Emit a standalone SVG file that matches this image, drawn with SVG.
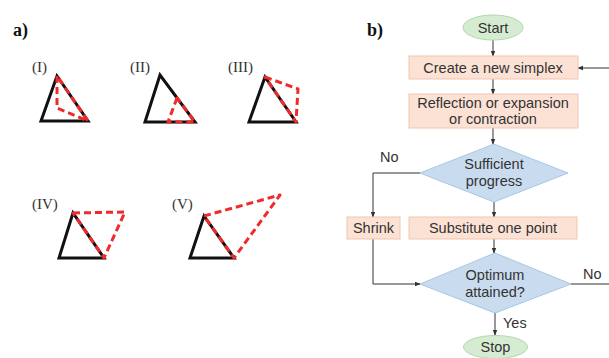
<svg xmlns="http://www.w3.org/2000/svg" width="609" height="358" viewBox="0 0 609 358">
  <style>
    .panel { font-family: "Liberation Serif", "Times New Roman", serif; font-weight: bold; font-size: 18px; fill: #111; }
    .roman { font-family: "Liberation Serif", "Times New Roman", serif; font-size: 15px; fill: #333; }
    .tri { fill: none; stroke: #111; stroke-width: 3; stroke-linejoin: miter; }
    .move { fill: none; stroke: #ee2a2a; stroke-width: 3; stroke-dasharray: 7 4; stroke-linejoin: round; }
    .box { fill: #fbe2d5; stroke: #f3c4ae; stroke-width: 1; }
    .dec { fill: #c9dcef; stroke: #a9c6e3; stroke-width: 1; }
    .term { fill: #d6ecd2; stroke: #b2d8ab; stroke-width: 1; }
    .lbl { font-family: "Liberation Sans", Arial, sans-serif; font-size: 14.5px; fill: #333; text-anchor: middle; }
    .side { font-family: "Liberation Sans", Arial, sans-serif; font-size: 14.5px; fill: #333; }
    .conn { fill: none; stroke: #333; stroke-width: 1; }
  </style>
  <defs>
    <marker id="arrow" viewBox="0 0 8 8" refX="7" refY="4" markerWidth="6" markerHeight="6" orient="auto" markerUnits="userSpaceOnUse">
      <path d="M0,1 L8,4 L0,7 Z" fill="#333"/>
    </marker>
  </defs>

  <rect width="609" height="358" fill="#ffffff"/>

  <!-- a) simplex operations -->
  <text class="panel" x="13" y="36">a)</text>

  <g id="op-I">
    <text class="roman" x="32" y="72">(I)</text>
    <path class="tri" d="M41,121 L57,76 L88,121 Z"/>
    <path class="move" d="M57,76 L57,108 L88,121 Z"/>
  </g>
  <g id="op-II">
    <text class="roman" x="130" y="72">(II)</text>
    <path class="tri" d="M145,122 L160,75 L195,122 Z"/>
    <path class="move" d="M177,98 L168,122 L195,122 Z"/>
  </g>
  <g id="op-III">
    <text class="roman" x="228" y="72">(III)</text>
    <path class="tri" d="M249,122 L265,77 L296,122 Z"/>
    <path class="move" d="M265,77 L298,89 L296,122 Z"/>
  </g>
  <g id="op-IV">
    <text class="roman" x="32" y="209">(IV)</text>
    <path class="tri" d="M59,258 L73,213 L104,258 Z"/>
    <path class="move" d="M73,213 L125,212 L104,258 Z"/>
  </g>
  <g id="op-V">
    <text class="roman" x="172" y="209">(V)</text>
    <path class="tri" d="M190,258 L204,216 L234,258 Z"/>
    <path class="move" d="M204,216 L280,195 L234,258 Z"/>
  </g>

  <!-- b) flowchart -->
  <text class="panel" x="367" y="36">b)</text>

  <g id="connectors">
    <path class="conn" d="M493,40 V56" marker-end="url(#arrow)"/>
    <path class="conn" d="M493,79 V94" marker-end="url(#arrow)"/>
    <path class="conn" d="M493,128 V144" marker-end="url(#arrow)"/>
    <path class="conn" d="M494,202 V217" marker-end="url(#arrow)"/>
    <path class="conn" d="M494,239 V253" marker-end="url(#arrow)"/>
    <path class="conn" d="M495,313 V335" marker-end="url(#arrow)"/>
    <path class="conn" d="M420,173 H373 V217" marker-end="url(#arrow)"/>
    <path class="conn" d="M373,239 V284 H420" marker-end="url(#arrow)"/>
    <path class="conn" d="M571,284 H612 V68 H578" marker-end="url(#arrow)"/>
    <text class="side" x="380" y="162">No</text>
    <text class="side" x="583" y="279">No</text>
    <text class="side" x="503" y="328">Yes</text>
  </g>

  <g id="start">
    <ellipse class="term" cx="493" cy="27.5" rx="30" ry="12.5"/>
    <text class="lbl" x="493" y="33">Start</text>
  </g>
  <g id="create">
    <rect class="box" x="409" y="56" width="169" height="23"/>
    <text class="lbl" x="493" y="72.5">Create a new simplex</text>
  </g>
  <g id="reflect">
    <rect class="box" x="409" y="94" width="169" height="34"/>
    <text class="lbl" x="493" y="108">Reflection or expansion</text>
    <text class="lbl" x="493" y="124">or contraction</text>
  </g>
  <g id="progress">
    <path class="dec" d="M494,144 L568,173 L494,202 L420,173 Z"/>
    <text class="lbl" x="494" y="169">Sufficient</text>
    <text class="lbl" x="494" y="186">progress</text>
  </g>
  <g id="shrink">
    <rect class="box" x="347" y="217" width="53" height="22"/>
    <text class="lbl" x="373.5" y="233">Shrink</text>
  </g>
  <g id="substitute">
    <rect class="box" x="409" y="217" width="168" height="22"/>
    <text class="lbl" x="493" y="233">Substitute one point</text>
  </g>
  <g id="optimum">
    <path class="dec" d="M495,253 L571,284 L495,313 L420,284 Z"/>
    <text class="lbl" x="495" y="280">Optimum</text>
    <text class="lbl" x="495" y="297">attained?</text>
  </g>
  <g id="stop">
    <ellipse class="term" cx="495.5" cy="347" rx="32" ry="11.5"/>
    <text class="lbl" x="495.5" y="352">Stop</text>
  </g>
</svg>
